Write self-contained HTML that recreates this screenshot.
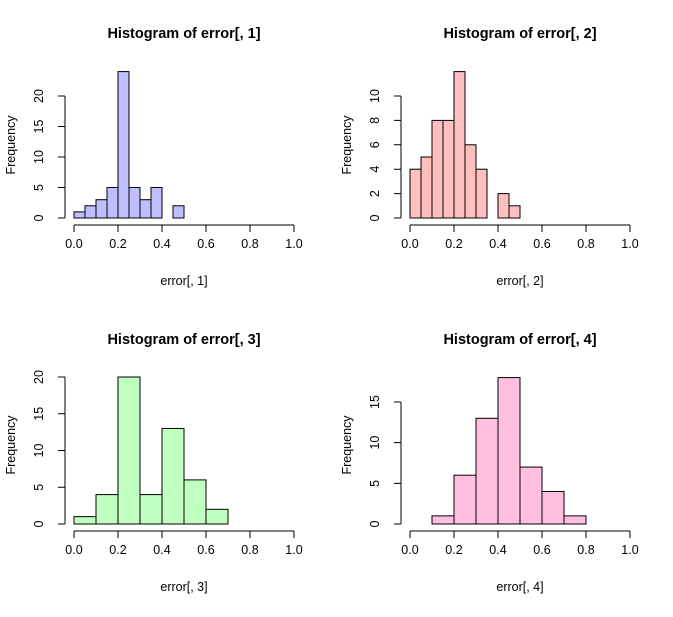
<!DOCTYPE html>
<html><head><meta charset="utf-8"><style>
body{margin:0;background:#fff}
svg text{font-family:"Liberation Sans",sans-serif;fill:#000}
</style></head><body>
<svg id="c" width="673" height="612" xmlns="http://www.w3.org/2000/svg"></svg>
<script>
const titles=["Histogram of error[, 1]","Histogram of error[, 2]","Histogram of error[, 3]","Histogram of error[, 4]"];
const xLabels=["error[, 1]","error[, 2]","error[, 3]","error[, 4]"];
const binStarts1=[0,0.05,0.1,0.15,0.2,0.25,0.3,0.35,0.4,0.45];
const counts1=[1,2,3,5,24,5,3,5,0,2];
const binStarts2=[0,0.05,0.1,0.15,0.2,0.25,0.3,0.35,0.4,0.45];
const counts2=[4,5,8,8,12,6,4,0,2,1];
const binStarts3=[0,0.1,0.2,0.3,0.4,0.5,0.6];
const counts3=[1,4,20,4,13,6,2];
const binStarts4=[0.1,0.2,0.3,0.4,0.5,0.6,0.7];
const counts4=[1,6,13,18,7,4,1];
const binWidths=[0.05,0.05,0.1,0.1];
const xTicks=[0,0.2,0.4,0.6,0.8,1.0];
const yTicks1=[0,5,10,15,20];
const yTicks2=[0,2,4,6,8,10];
const yTicks3=[0,5,10,15,20];
const yTicks4=[0,5,10,15];
const fills=["#bfbfff","#ffbfbf","#bfffbf","#ffbfdf"];
const panels=[
 {ox:74,y0:218,y1:96,yMax:20,bs:binStarts1,c:counts1,yt:yTicks1},
 {ox:410,y0:218,y1:96,yMax:10,bs:binStarts2,c:counts2,yt:yTicks2},
 {ox:74,y0:524,y1:377,yMax:20,bs:binStarts3,c:counts3,yt:yTicks3},
 {ox:410,y0:524,y1:402,yMax:15,bs:binStarts4,c:counts4,yt:yTicks4}
];
const svg=document.getElementById('c');
const NS="http://www.w3.org/2000/svg";
function mk(t,a,p){const e=document.createElementNS(NS,t);for(const k in a)e.setAttribute(k,a[k]);(p||svg).appendChild(e);return e;}
panels.forEach((p,i)=>{
 const g=mk('g',{});
 
 
 const xs=v=>p.ox+v*220;
 const ys=v=>p.y0-(v/p.yMax)*(p.y0-p.y1);
 const t=mk('text',{x:p.ox+110,y:p.y0-180,'text-anchor':'middle','font-size':14.5,'font-weight':'bold'},g);
 t.textContent=titles[i];
 
 
 p.c.forEach((v,j)=>{
  if(v===0)return;
  const r=mk('rect',{x:xs(p.bs[j]),y:ys(v),width:binWidths[i]*220,height:ys(0)-ys(v),fill:fills[i],stroke:'#000','stroke-width':1},g);
  
  
 });
 const ax=p.y0+7;
 const xa=mk('path',{d:`M${xs(0)},${ax}H${xs(1)}`+xTicks.map(v=>`M${xs(v)},${ax}v7`).join(''),stroke:'#000',fill:'none'},g);
 
 
 xTicks.forEach(v=>{const l=mk('text',{x:xs(v),y:ax+23,'text-anchor':'middle','font-size':12.5},g);l.textContent=v.toFixed(1);
  
  });
 const xt=mk('text',{x:p.ox+110,y:p.y0+67,'text-anchor':'middle','font-size':12.5},g);xt.textContent=xLabels[i];
 
 
 const yx=p.ox-9;
 const ymax=p.yt[p.yt.length-1];
 const ya=mk('path',{d:`M${yx},${ys(0)}V${ys(ymax)}`+p.yt.map(v=>`M${yx},${ys(v)}h-7`).join(''),stroke:'#000',fill:'none'},g);
 
 
 p.yt.forEach(v=>{const l=mk('text',{x:yx-22,y:ys(v),'text-anchor':'middle','font-size':12.5,transform:`rotate(-90 ${yx-22} ${ys(v)})`},g);l.textContent=v;
  
  });
 const ly=i<2?145:445;
 const yl=mk('text',{x:p.ox-59,y:ly,'text-anchor':'middle','font-size':12.5,transform:`rotate(-90 ${p.ox-59} ${ly})`},g);yl.textContent='Frequency';
 
 
});
</script>
</body></html>
